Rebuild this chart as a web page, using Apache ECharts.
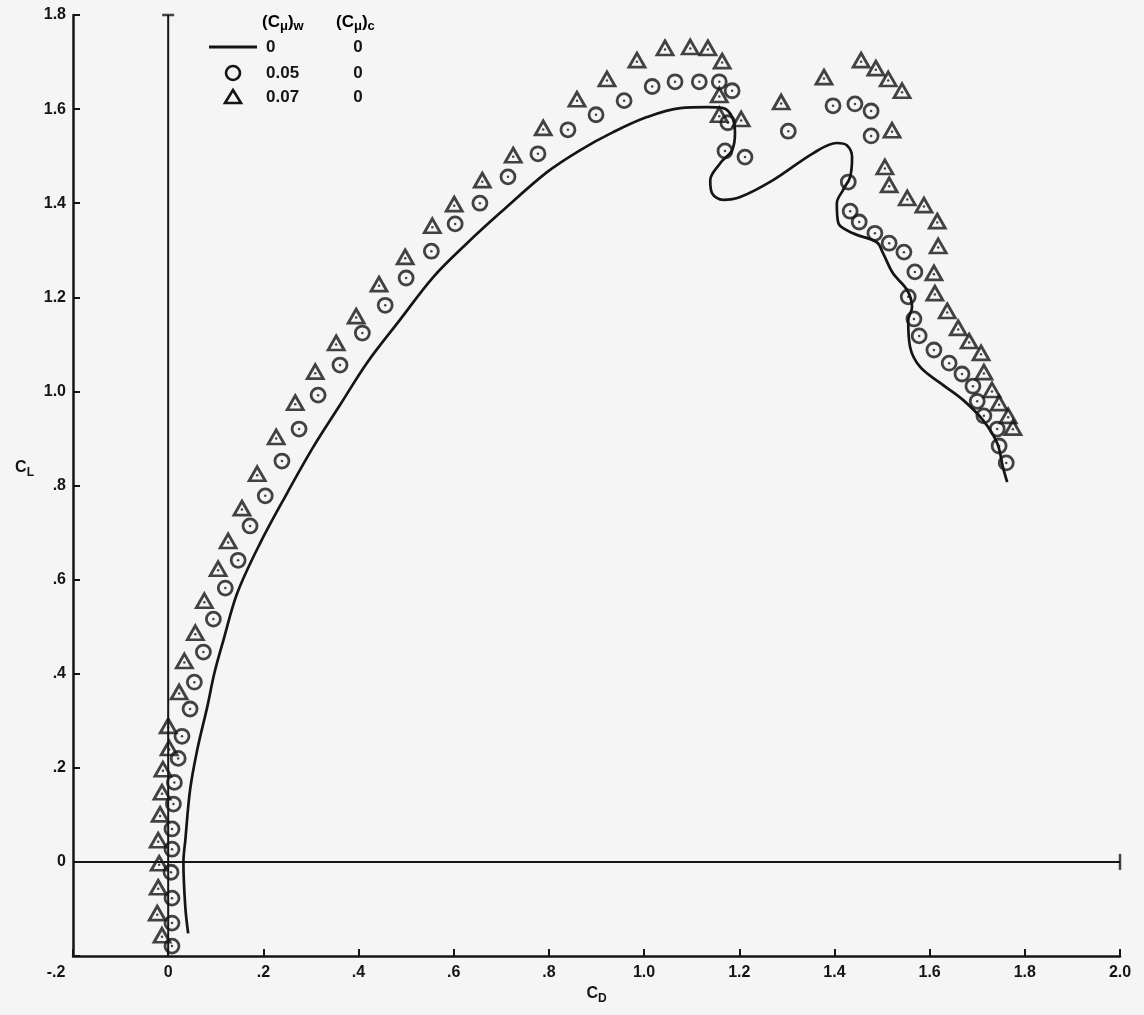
<!DOCTYPE html>
<html><head><meta charset="utf-8">
<script src="https://cdn.jsdelivr.net/npm/echarts@6/dist/echarts.min.js"></script>
<style>html,body{margin:0;padding:0;background:#f5f5f5}#c{width:1144px;height:1015px}</style>
</head><body><div id="c"></div>
<script>
// ---- data ----
const xTickLabels = ['-.2','0','.2','.4','.6','.8','1.0','1.2','1.4','1.6','1.8','2.0'];
const yTickLabels = ['','0','.2','.4','.6','.8','1.0','1.2','1.4','1.6','1.8'];

// (Cmu)w = 0 : solid curve
const lineCD = [0.042,0.036,0.032,0.036,0.046,0.061,0.082,0.097,0.116,0.145,0.193,0.250,0.305,0.361,0.418,0.487,0.557,0.628,0.697,0.796,0.866,0.935,1.006,1.076,1.132,1.166,1.185,1.191,1.185,1.160,1.139,1.143,1.166,1.202,1.271,1.355,1.405,1.426,1.437,1.433,1.418,1.405,1.408,1.439,1.489,1.502,1.523,1.553,1.563,1.555,1.559,1.580,1.622,1.670,1.712,1.742,1.754,1.763];
const lineCL = [-0.152,-0.096,0.000,0.046,0.153,0.238,0.329,0.401,0.471,0.571,0.677,0.784,0.882,0.971,1.061,1.152,1.243,1.315,1.379,1.466,1.513,1.551,1.583,1.602,1.604,1.602,1.583,1.549,1.513,1.485,1.449,1.421,1.407,1.413,1.449,1.506,1.528,1.523,1.498,1.456,1.428,1.400,1.358,1.336,1.317,1.294,1.251,1.215,1.179,1.151,1.094,1.052,1.018,0.982,0.939,0.890,0.839,0.807];

// (Cmu)w = 0.05 : circles
const circCD = [0.008,0.008,0.008,0.006,0.008,0.008,0.011,0.013,0.021,0.029,0.046,0.055,0.074,0.095,0.120,0.147,0.172,0.204,0.239,0.275,0.315,0.361,0.408,0.456,0.500,0.553,0.603,0.655,0.714,0.777,0.840,0.899,0.958,1.017,1.065,1.116,1.158,1.185,1.176,1.170,1.212,1.303,1.397,1.443,1.477,1.477,1.429,1.433,1.452,1.485,1.515,1.546,1.569,1.555,1.567,1.578,1.609,1.641,1.668,1.691,1.700,1.714,1.742,1.746,1.761];
const circCL = [-0.179,-0.130,-0.077,-0.022,0.027,0.070,0.123,0.169,0.220,0.267,0.325,0.382,0.446,0.516,0.582,0.641,0.714,0.778,0.852,0.920,0.992,1.056,1.124,1.183,1.241,1.298,1.356,1.400,1.456,1.505,1.556,1.588,1.618,1.648,1.658,1.658,1.658,1.639,1.571,1.511,1.498,1.553,1.607,1.611,1.596,1.543,1.445,1.383,1.360,1.336,1.315,1.296,1.254,1.201,1.154,1.118,1.088,1.060,1.037,1.011,0.979,0.948,0.920,0.884,0.848];

// (Cmu)w = 0.07 : triangles
const triCD = [-0.013,-0.023,-0.021,-0.019,-0.021,-0.017,-0.013,-0.011,0.002,0.000,0.023,0.034,0.057,0.076,0.105,0.126,0.155,0.187,0.227,0.267,0.309,0.353,0.395,0.443,0.498,0.555,0.601,0.660,0.725,0.788,0.859,0.922,0.985,1.044,1.097,1.134,1.164,1.158,1.158,1.204,1.288,1.378,1.456,1.487,1.513,1.542,1.521,1.506,1.515,1.553,1.588,1.616,1.618,1.609,1.611,1.637,1.660,1.683,1.708,1.714,1.731,1.746,1.765,1.775];
const triCL = [-0.156,-0.109,-0.054,-0.003,0.046,0.101,0.148,0.197,0.242,0.289,0.361,0.427,0.487,0.555,0.623,0.682,0.752,0.825,0.903,0.976,1.042,1.103,1.160,1.228,1.286,1.352,1.398,1.449,1.502,1.560,1.621,1.664,1.704,1.730,1.732,1.730,1.702,1.630,1.588,1.579,1.615,1.668,1.704,1.687,1.664,1.639,1.555,1.477,1.439,1.411,1.396,1.362,1.309,1.252,1.209,1.171,1.135,1.107,1.082,1.041,1.003,0.975,0.948,0.923];

// reference lines (C_D = 0 and C_L = 0)
const zeroCDLine = [[0,-0.2],[0,1.8]];
const zeroCLLine = [[-0.2,0],[2.0,0]];

// legend text
const legendWing = ['0','0.05','0.07'];
const legendCanard = ['0','0','0'];

// ---- chart ----
const INK = '#151515';
const FONT = '"Liberation Sans", Arial, Helvetica, sans-serif';
const zip = (a,b) => a.map((v,i)=>[v,b[i]]);
const lbl = {color:INK, fontFamily:FONT, fontWeight:'bold', fontSize:16};
const subRich = () => ({
  c:{...lbl, fontSize:16, lineHeight:22},
  s:{...lbl, fontSize:12, lineHeight:10, verticalAlign:'bottom'}
});

const chart = echarts.init(document.getElementById('c'), null, {renderer:'canvas'});

const headerRich = {
  a:{color:INK, fontFamily:FONT, fontWeight:'bold', fontSize:17, lineHeight:22},
  b:{color:INK, fontFamily:FONT, fontWeight:'bold', fontSize:13, lineHeight:10, verticalAlign:'bottom'}
};
const rowY = [47, 73, 97];
const graphic = [
  {type:'text', x:262, y:11, style:{text:'{a|(C}{b|μ}{a|)}{b|w}', rich:headerRich}},
  {type:'text', x:336, y:11, style:{text:'{a|(C}{b|μ}{a|)}{b|c}', rich:headerRich}},
  {type:'line', shape:{x1:209,y1:rowY[0],x2:257,y2:rowY[0]}, style:{stroke:INK, lineWidth:3}},
  {type:'circle', shape:{cx:233,cy:rowY[1],r:7}, style:{fill:'none', stroke:INK, lineWidth:2.6}},
  {type:'polygon', shape:{points:[[225,rowY[2]+6],[241,rowY[2]+6],[233,rowY[2]-7]]}, style:{fill:'none', stroke:INK, lineWidth:2.6}}
];
legendWing.forEach((t,i)=>{
  graphic.push({type:'text', x:266, y:rowY[i], style:{text:t, fill:INK, font:'bold 17px '+FONT, align:'left', verticalAlign:'middle'}});
  graphic.push({type:'text', x:358, y:rowY[i], style:{text:legendCanard[i], fill:INK, font:'bold 17px '+FONT, align:'center', verticalAlign:'middle'}});
});

const markerStyle = {color:'rgba(0,0,0,0)', borderColor:INK, borderWidth:2.8};

chart.setOption({
  backgroundColor:'#f5f5f5',
  animation:false,
  grid:{left:73, right:24, top:15, bottom:59},
  xAxis:{
    type:'value', min:-0.2, max:2.0, interval:0.2,
    splitLine:{show:false},
    axisLine:{onZero:false, lineStyle:{color:INK, width:2.5}},
    axisTick:{inside:true, length:7, lineStyle:{color:INK, width:2}},
    axisLabel:{...lbl, margin:9,
      formatter:(v)=>{const i=Math.round((v+0.2)/0.2); return i===0 ? '{m|'+xTickLabels[0]+'}' : xTickLabels[i];},
      rich:{m:{...lbl, padding:[0,34,0,0]}}},
    name:'{c|C}{s|D}', nameLocation:'middle', nameGap:25,
    nameTextStyle:{rich:subRich()}
  },
  yAxis:{
    type:'value', min:-0.2, max:1.8, interval:0.2,
    splitLine:{show:false},
    axisLine:{onZero:false, lineStyle:{color:INK, width:2.5}},
    axisTick:{inside:true, length:7, lineStyle:{color:INK, width:2}},
    axisLabel:{...lbl, margin:7,
      formatter:(v)=>yTickLabels[Math.round((v+0.2)/0.2)]},
    name:'{c|C}{s|L}', nameLocation:'middle', nameRotate:0, nameGap:39,
    nameTextStyle:{rich:subRich(), padding:[0,0,36,0]}
  },
  graphic:graphic,
  series:[
    {type:'line', data:zeroCDLine, symbol:'none', silent:true, lineStyle:{color:INK, width:2}, z:1},
    {type:'line', data:zeroCLLine, symbol:'none', silent:true, lineStyle:{color:INK, width:2}, z:1},
    {type:'scatter', data:[zeroCDLine[1]], symbol:'rect', symbolSize:[12,2.5], itemStyle:{color:INK}, silent:true, z:1},
    {type:'scatter', data:[zeroCLLine[1]], symbol:'rect', symbolSize:[2.5,16], itemStyle:{color:INK}, silent:true, z:1},
    {name:'0', type:'line', data:zip(lineCD,lineCL), smooth:0.35, showSymbol:false, symbol:'none',
      lineStyle:{color:INK, width:2.7}, z:3},
    {name:'0.05', type:'scatter', data:zip(circCD,circCL), symbol:'circle', symbolSize:14, itemStyle:markerStyle, z:4},
    {type:'scatter', data:zip(circCD,circCL), symbol:'circle', symbolSize:2.5, itemStyle:{color:INK}, z:5, silent:true},
    {name:'0.07', type:'scatter', data:zip(triCD,triCL), symbol:'triangle', symbolSize:[16,14], itemStyle:markerStyle, z:4},
    {type:'scatter', data:zip(triCD,triCL), symbol:'circle', symbolSize:2.5, symbolOffset:[0,1.5], itemStyle:{color:INK}, z:5, silent:true}
  ]
});
</script></body></html>
